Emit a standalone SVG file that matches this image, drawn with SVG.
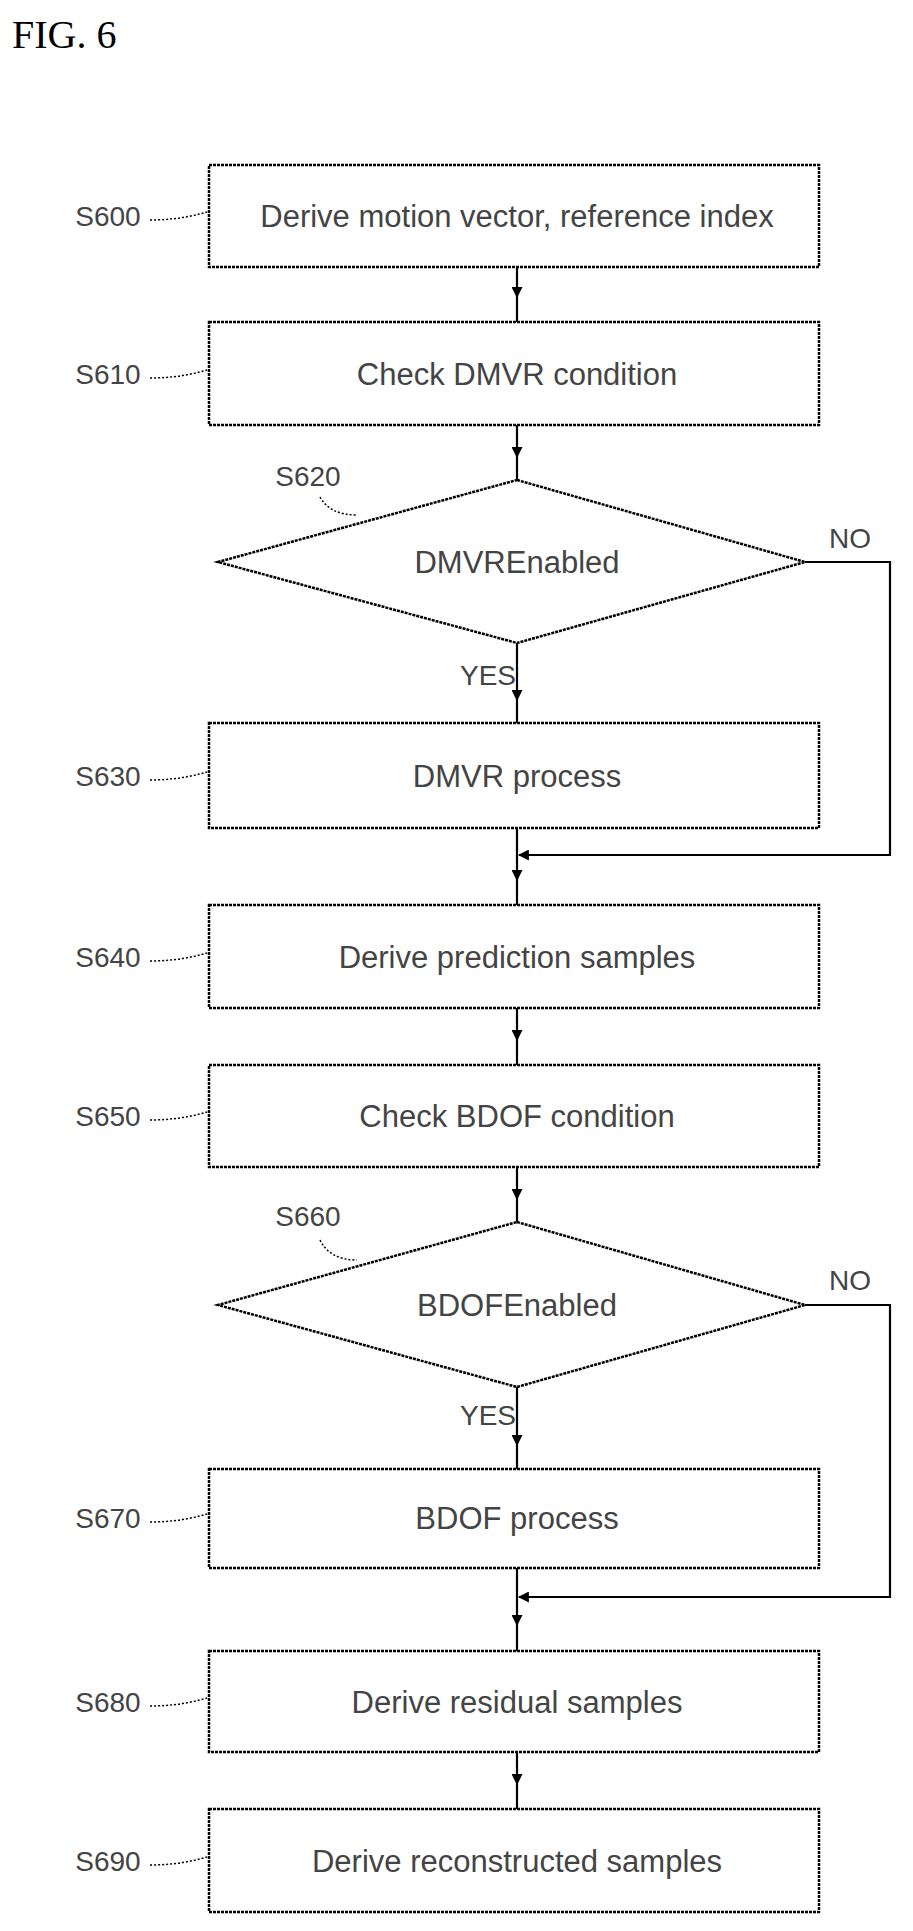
<svg xmlns="http://www.w3.org/2000/svg" width="913" height="1931" viewBox="0 0 913 1931">
<style>
.box{fill:#fff;stroke:#000;stroke-width:2.5;stroke-dasharray:3 1}
.ln{fill:none;stroke:#000;stroke-width:2.2}
.ld{fill:none;stroke:#000;stroke-width:1.5;stroke-dasharray:2 2}
.t{font-family:"Liberation Sans",Arial,sans-serif;font-size:31px;fill:#444;text-anchor:middle;dominant-baseline:central}
.lb{font-family:"Liberation Sans",Arial,sans-serif;font-size:28px;fill:#444;text-anchor:middle;dominant-baseline:central}
</style>
<defs>
<marker id="ah" viewBox="0 0 10 10" refX="9" refY="5" markerWidth="5" markerHeight="5" orient="auto"><path d="M0,0L10,5L0,10z" fill="#000"/></marker>
</defs>
<rect width="913" height="1931" fill="#fff"/>
<text x="12" y="48" font-family="Liberation Serif,serif" font-size="40" fill="#000">FIG. 6</text>
<g id="connectors">
<polyline class="ln" points="517,267 517,297 517,322" marker-mid="url(#ah)"/>
<polyline class="ln" points="517,425 517,457 517,480" marker-mid="url(#ah)"/>
<polyline class="ln" points="517,643 517,700 517,723" marker-mid="url(#ah)"/>
<polyline class="ln" points="517,828 517,880 517,905" marker-mid="url(#ah)"/>
<polyline class="ln" points="805,562 890,562 890,855 519,855" marker-end="url(#ah)"/>
<polyline class="ln" points="517,1008 517,1040 517,1065" marker-mid="url(#ah)"/>
<polyline class="ln" points="517,1167 517,1199 517,1222" marker-mid="url(#ah)"/>
<polyline class="ln" points="517,1387 517,1445 517,1469" marker-mid="url(#ah)"/>
<polyline class="ln" points="517,1568 517,1625 517,1651" marker-mid="url(#ah)"/>
<polyline class="ln" points="805,1305 890,1305 890,1597 519,1597" marker-end="url(#ah)"/>
<polyline class="ln" points="517,1752 517,1784 517,1809" marker-mid="url(#ah)"/>
<text class="lb" x="850" y="538">NO</text>
<text class="lb" x="488" y="675">YES</text>
<text class="lb" x="850" y="1280">NO</text>
<text class="lb" x="488" y="1415">YES</text>
</g>
<g id="S600"><rect class="box" x="209" y="165" width="610" height="102"/><text class="t" x="517" y="216">Derive motion vector, reference index</text><text class="lb" x="108" y="216">S600</text><path class="ld" d="M150,220 Q180,220 207,212"/></g>
<g id="S610"><rect class="box" x="209" y="322" width="610" height="103"/><text class="t" x="517" y="374">Check DMVR condition</text><text class="lb" x="108" y="374">S610</text><path class="ld" d="M150,378 Q180,378 207,370"/></g>
<g id="S620"><polygon class="box" points="517,480 805,562 517,643 218,562"/><text class="t" x="517" y="562">DMVREnabled</text><text class="lb" x="308" y="476">S620</text><path class="ld" d="M320,497 Q330,515 357,515"/></g>
<g id="S630"><rect class="box" x="209" y="723" width="610" height="105"/><text class="t" x="517" y="776">DMVR process</text><text class="lb" x="108" y="776">S630</text><path class="ld" d="M150,780 Q180,780 207,772"/></g>
<g id="S640"><rect class="box" x="209" y="905" width="610" height="103"/><text class="t" x="517" y="957">Derive prediction samples</text><text class="lb" x="108" y="957">S640</text><path class="ld" d="M150,961 Q180,961 207,953"/></g>
<g id="S650"><rect class="box" x="209" y="1065" width="610" height="102"/><text class="t" x="517" y="1116">Check BDOF condition</text><text class="lb" x="108" y="1116">S650</text><path class="ld" d="M150,1120 Q180,1120 207,1112"/></g>
<g id="S660"><polygon class="box" points="517,1222 805,1305 517,1387 218,1305"/><text class="t" x="517" y="1305">BDOFEnabled</text><text class="lb" x="308" y="1216">S660</text><path class="ld" d="M320,1240 Q330,1260 357,1260"/></g>
<g id="S670"><rect class="box" x="209" y="1469" width="610" height="99"/><text class="t" x="517" y="1518">BDOF process</text><text class="lb" x="108" y="1518">S670</text><path class="ld" d="M150,1522 Q180,1522 207,1514"/></g>
<g id="S680"><rect class="box" x="209" y="1651" width="610" height="101"/><text class="t" x="517" y="1702">Derive residual samples</text><text class="lb" x="108" y="1702">S680</text><path class="ld" d="M150,1706 Q180,1706 207,1698"/></g>
<g id="S690"><rect class="box" x="209" y="1809" width="610" height="103"/><text class="t" x="517" y="1861">Derive reconstructed samples</text><text class="lb" x="108" y="1861">S690</text><path class="ld" d="M150,1865 Q180,1865 207,1857"/></g>
</svg>
